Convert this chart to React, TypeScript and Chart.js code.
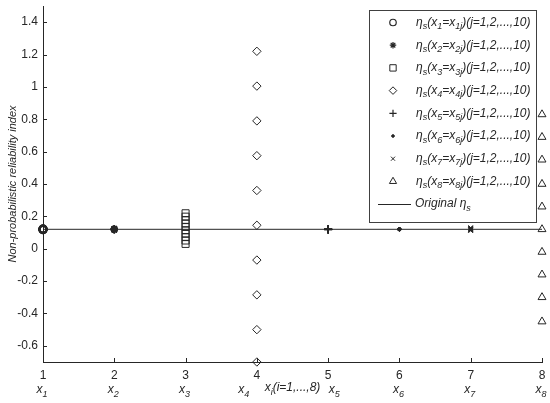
import React, { useEffect, useRef } from "react";
import { Chart, registerables } from "chart.js";
import { drawPoint } from "chart.js/helpers";

Chart.register(...registerables);

// ---- data ----
const positions = [1, 2, 3, 4, 5, 6, 7, 8];
const variableNames = ["1", "2", "3", "4", "5", "6", "7", "8"];
const yTickValues = [-0.6, -0.4, -0.2, 0, 0.2, 0.4, 0.6, 0.8, 1, 1.2, 1.4];
const originalEta = 0.12;
const etaX1 = [0.117, 0.119, 0.12, 0.121, 0.122, 0.12, 0.118, 0.123, 0.12, 0.121];
const etaX2 = [0.116, 0.118, 0.12, 0.121, 0.123, 0.119, 0.12, 0.122, 0.117, 0.124];
const etaX3 = [0.03, 0.051, 0.072, 0.093, 0.114, 0.135, 0.156, 0.177, 0.198, 0.219];
const etaX4 = [-0.7, -0.5, -0.285, -0.07, 0.145, 0.36, 0.575, 0.79, 1.005, 1.22];
const etaX5 = [0.118, 0.119, 0.12, 0.121, 0.122, 0.12, 0.119, 0.121, 0.12, 0.118];
const etaX6 = [0.119, 0.12, 0.12, 0.121, 0.12, 0.119, 0.12, 0.121, 0.12, 0.12];
const etaX7 = [0.112, 0.114, 0.116, 0.118, 0.12, 0.122, 0.124, 0.126, 0.128, 0.13];
const etaX8 = [-0.45, -0.3, -0.16, -0.02, 0.12, 0.26, 0.4, 0.55, 0.69, 0.83];
const seriesValues = [etaX1, etaX2, etaX3, etaX4, etaX5, etaX6, etaX7, etaX8];

// ---- styles ----
const INK = "#262626";
const FONT = "'Liberation Sans', Arial, sans-serif";
const markerStyles = [
  { pointStyle: "circle", radius: 3.6, borderWidth: 1.8, fill: false },
  { pointStyle: "star", radius: 3.6, borderWidth: 1.6, fill: false },
  { pointStyle: "rect", radius: 5, borderWidth: 1, fill: false },
  { pointStyle: "rectRot", radius: 4.2, borderWidth: 1, fill: false },
  { pointStyle: "cross", radius: 4, borderWidth: 1.2, fill: false },
  { pointStyle: "circle", radius: 1.5, borderWidth: 1, fill: true },
  { pointStyle: "crossRot", radius: 3.2, borderWidth: 1, fill: false },
  { pointStyle: "triangle", radius: 4.6, borderWidth: 1, fill: false },
];

type Part = [string, boolean?];

function drawRich(
  ctx: CanvasRenderingContext2D,
  parts: Part[],
  x: number,
  y: number,
  size: number,
  align: "left" | "center"
) {
  const subSize = Math.round(size * 0.72);
  const fontFor = (sub?: boolean) => `italic ${sub ? subSize : size}px ${FONT}`;
  let total = 0;
  for (const [t, sub] of parts) {
    ctx.font = fontFor(sub);
    total += ctx.measureText(t).width;
  }
  let cx = align === "center" ? x - total / 2 : x;
  ctx.textBaseline = "middle";
  ctx.textAlign = "left";
  for (const [t, sub] of parts) {
    ctx.font = fontFor(sub);
    ctx.fillText(t, cx, sub ? y + size * 0.35 : y);
    cx += ctx.measureText(t).width;
  }
}

function legendParts(n: string): Part[] {
  return [
    ["η"],
    ["s", true],
    ["(x"],
    [n, true],
    ["=x"],
    [n + "j", true],
    [")(j=1,2,...,10)"],
  ];
}

const overlayPlugin = {
  id: "overlay",
  afterDraw(chart: any) {
    const ctx: CanvasRenderingContext2D = chart.ctx;
    const area = chart.chartArea;
    const xs = chart.scales.x;
    const ys = chart.scales.y;
    ctx.save();
    ctx.strokeStyle = INK;
    ctx.fillStyle = INK;
    ctx.lineWidth = 1;
    // inward tick marks
    ctx.beginPath();
    for (const v of yTickValues) {
      const py = Math.round(ys.getPixelForValue(v)) + 0.5;
      ctx.moveTo(area.left, py);
      ctx.lineTo(area.left + 4, py);
    }
    for (const p of positions) {
      const px = Math.round(xs.getPixelForValue(p)) + 0.5;
      ctx.moveTo(px, area.bottom);
      ctx.lineTo(px, area.bottom - 4);
    }
    ctx.stroke();

    // variable names under ticks
    const rowY = area.bottom + 30;
    const shift: Record<number, number> = { 4: -0.17, 5: 0.1 };
    positions.forEach((p, i) => {
      const px = xs.getPixelForValue(p + (shift[p] || 0)) - 1;
      drawRich(ctx, [["x"], [variableNames[i], true]], px, rowY - 2, 12, "center");
    });
    // axis title
    const midX = (area.left + area.right) / 2;
    drawRich(ctx, [["x"], ["i", true], ["("], ["i=1,...,8)"]], midX, rowY - 4, 12, "center");

    // legend
    const lw = 167;
    const lh = 212;
    const lx = area.right - 6 - lw;
    const ly = area.top + 4;
    ctx.fillStyle = "#ffffff";
    ctx.fillRect(lx, ly, lw, lh);
    ctx.strokeStyle = "#404040";
    ctx.lineWidth = 1;
    ctx.strokeRect(Math.round(lx) + 0.5, Math.round(ly) + 0.5, lw, lh);
    const rowH = 22.7;
    for (let i = 0; i < 9; i++) {
      const ry = ly + 12.5 + i * rowH;
      ctx.strokeStyle = INK;
      ctx.fillStyle = INK;
      if (i < 8) {
        const m = markerStyles[i];
        ctx.lineWidth = Math.min(m.borderWidth, 1.2);
        ctx.fillStyle = m.fill ? INK : "rgba(0,0,0,0)";
        drawPoint(ctx, { pointStyle: m.pointStyle as any, radius: m.radius * 0.9, rotation: 0, borderWidth: 1 } as any, lx + 24, ry);
        ctx.fillStyle = INK;
        drawRich(ctx, legendParts(variableNames[i]), lx + 47, ry, 12, "left");
      } else {
        ctx.lineWidth = 1;
        ctx.beginPath();
        ctx.moveTo(lx + 9, Math.round(ry) + 0.5);
        ctx.lineTo(lx + 42, Math.round(ry) + 0.5);
        ctx.stroke();
        drawRich(ctx, [["Original η"], ["s", true]], lx + 46, ry, 12, "left");
      }
    }
    ctx.restore();
  },
};

export default function App() {
  const canvasRef = useRef<HTMLCanvasElement | null>(null);

  useEffect(() => {
    document.body.style.margin = "0";
    const canvas = canvasRef.current;
    if (!canvas) return;

    const datasets: any[] = seriesValues.map((vals, i) => {
      const m = markerStyles[i];
      return {
        type: "scatter",
        label: `x${i + 1}`,
        data: vals.map((v) => ({ x: positions[i], y: v })),
        pointStyle: m.pointStyle,
        pointRadius: m.radius,
        pointBorderWidth: m.borderWidth,
        pointBorderColor: INK,
        pointBackgroundColor: m.fill ? INK : "rgba(0,0,0,0)",
        showLine: false,
        clip: false,
      };
    });
    datasets.push({
      type: "line",
      label: "Original",
      data: [
        { x: positions[0], y: originalEta },
        { x: positions[positions.length - 1], y: originalEta },
      ],
      borderColor: INK,
      borderWidth: 1,
      pointRadius: 0,
      fill: false,
      clip: false,
    });

    const chart = new Chart(canvas, {
      type: "scatter",
      data: { datasets },
      options: {
        animation: false,
        responsive: false,
        maintainAspectRatio: false,
        layout: { padding: { top: 1, right: 8, bottom: 0, left: 0 } },
        plugins: {
          legend: { display: false },
          tooltip: { enabled: false },
        },
        scales: {
          x: {
            type: "linear",
            min: 1,
            max: 8,
            afterBuildTicks: (scale: any) => {
              scale.ticks = positions.map((v) => ({ value: v }));
            },
            afterFit: (scale: any) => {
              scale.height = 41;
              scale.paddingLeft = 0;
              scale.paddingRight = 0;
            },
            grid: { display: false, drawTicks: false },
            border: { display: true, color: INK, width: 1 },
            ticks: {
              color: INK,
              padding: 6,
              maxRotation: 0,
              autoSkip: false,
              font: { family: FONT, size: 12 },
              callback: (v: any) => String(v),
            },
          },
          y: {
            type: "linear",
            min: -0.7,
            max: 1.5,
            afterBuildTicks: (scale: any) => {
              scale.ticks = yTickValues.map((v) => ({ value: v }));
            },
            afterFit: (scale: any) => {
              scale.width = 43;
              scale.paddingTop = 0;
              scale.paddingBottom = 0;
            },
            grid: { display: false, drawTicks: false },
            border: { display: true, color: INK, width: 1 },
            ticks: {
              color: INK,
              padding: 5,
              autoSkip: false,
              font: { family: FONT, size: 12 },
              callback: (v: any) => String(Math.round(Number(v) * 10) / 10),
            },
            title: {
              display: true,
              text: "Non-probabilistic reliability index",
              color: INK,
              padding: { top: 6, bottom: 0 },
              font: { family: FONT, size: 11, style: "italic" },
            },
          },
        },
      },
      plugins: [overlayPlugin],
    });

    return () => chart.destroy();
  }, []);

  return (
    <div style={{ width: 550, height: 403, background: "#fff" }}>
      <canvas ref={canvasRef} width={550} height={403} />
    </div>
  );
}
